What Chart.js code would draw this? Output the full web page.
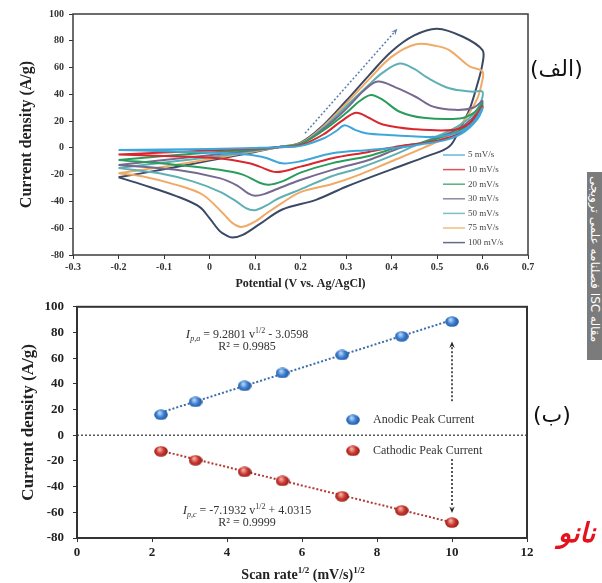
<!DOCTYPE html>
<html>
<head>
<meta charset="utf-8">
<script src="https://cdn.jsdelivr.net/npm/chart.js@4.4.0/dist/chart.umd.min.js"></script>
<style>
    html, body { margin: 0; padding: 0; background: #fff; overflow: hidden; }
    #wrap { position: relative; width: 602px; height: 583px; overflow: hidden; }
    #cvChart { position: absolute; left: 0; top: 0; }
    #peakChart { position: absolute; left: 0; top: 290px; }
    .tag { position: absolute; font-family: 'DejaVu Sans', sans-serif; font-size: 22px; color: #111; white-space: nowrap; }
    #stamp { position: absolute; left: 587px; top: 172px; width: 15px; height: 188px; background: #7b7b7b; overflow: hidden; }
    #stamp span { position: absolute; left: 0; top: 4px; writing-mode: vertical-rl; color: #fff; font-family: 'DejaVu Sans', sans-serif; font-size: 12px; line-height: 15px; white-space: nowrap; }
    #brand { position: absolute; left: 558px; top: 517px; width: 300px; direction: rtl; text-align: left; color: #e3121c; font-family: 'DejaVu Sans', sans-serif; font-size: 27px; font-style: italic; font-weight: bold; white-space: nowrap; }
</style>
</head>
<body>
<div id="wrap">
    <canvas id="cvChart" width="602" height="292"></canvas>
    <canvas id="peakChart" width="602" height="293"></canvas>
    <div class="tag" style="left:530px; top:56px;">(الف)</div>
    <div class="tag" style="left:533px; top:402px;">(ب)</div>
    <div id="stamp"><span>فصلنامه علمی ترویجی ISC مقاله</span></div>
    <div id="brand">فناوری نانو</div>
</div>
<script>
// ======================== CV curves: forward sweep then reverse ========================
const cvLabels = ['5 mV/s', '10 mV/s', '20 mV/s', '30 mV/s', '50 mV/s', '75 mV/s', '100 mV/s'];
const cvColors = ['#3ea7d8', '#d7282f', '#2a9d5c', '#76698f', '#5fb0b4', '#f0aa66', '#3b4965'];

const cv5E = [-0.2, -0.1, 0, 0.1, 0.15, 0.2, 0.25, 0.28, 0.297, 0.32, 0.344, 0.4, 0.454, 0.505, 0.55, 0.58, 0.6,
              0.59, 0.56, 0.52, 0.47, 0.42, 0.35, 0.27, 0.2, 0.16, 0.125, 0.088, 0, -0.1, -0.2];
const cv5J = [-1.5, -1.2, -0.8, 0, 0.5, 1.5, 7, 13, 17, 13.5, 11, 9.5, 8.5, 8.5, 12, 19, 30,
              22, 12, 6, 3, 0.5, -1.5, -4, -10, -11.5, -7.6, -5.2, -3.5, -2.5, -1.5];

const cv10E = [-0.2, -0.1, 0, 0.1, 0.15, 0.2, 0.25, 0.29, 0.322, 0.35, 0.381, 0.45, 0.535, 0.57, 0.6,
               0.59, 0.56, 0.52, 0.47, 0.42, 0.35, 0.27, 0.2, 0.147, 0.11, 0.088, 0.02, -0.1, -0.2];
const cv10J = [-5, -3.5, -2, -0.5, 0.5, 2, 10, 20, 26.3, 22.5, 17.5, 14, 13.4, 18, 31,
               23, 13, 7, 3.5, 1.5, -3, -7.7, -14, -18, -14, -11.4, -7.7, -6, -5];

const cv20E = [-0.2, -0.1, 0, 0.1, 0.15, 0.2, 0.25, 0.3, 0.33, 0.355, 0.38, 0.418, 0.47, 0.55, 0.58, 0.6,
               0.59, 0.56, 0.52, 0.47, 0.42, 0.35, 0.27, 0.2, 0.16, 0.13, 0.11, 0.073, 0.022, -0.073, -0.2];
const cv20J = [-9, -6, -3.5, -1, 0.5, 3, 13, 26, 35, 39.5, 36, 27, 22.5, 22, 26, 33,
               25, 15, 9, 4, 1, -6, -11.4, -18.5, -25, -27.5, -26, -20, -16.4, -12.7, -9];

const cv30E = [-0.2, -0.1, 0, 0.1, 0.15, 0.2, 0.25, 0.3, 0.34, 0.37, 0.41, 0.454, 0.49, 0.54, 0.58, 0.6,
               0.59, 0.56, 0.52, 0.47, 0.42, 0.35, 0.27, 0.2, 0.15, 0.12, 0.1, 0.085, 0.06, 0.022, -0.073, -0.2];
const cv30J = [-12.7, -9, -5.5, -1.5, 0.5, 3, 14, 29, 43, 49.5, 45, 38, 31, 28.4, 30, 35,
               27, 17, 10, 4, 0, -9, -16.4, -24, -30.5, -34.5, -35.8, -34, -28, -22.6, -16.4, -12.7];

const cv50E = [-0.2, -0.1, 0, 0.1, 0.15, 0.2, 0.25, 0.3, 0.35, 0.38, 0.418, 0.45, 0.476, 0.527, 0.579, 0.6,
               0.595, 0.58, 0.55, 0.51, 0.46, 0.4, 0.33, 0.27, 0.2, 0.15, 0.125, 0.1, 0.08, 0.059, 0.022, -0.037, -0.11, -0.2];
const cv50J = [-15, -11, -7, -2, 0.5, 3, 15, 31, 47, 56, 63, 59, 53, 44.5, 42, 42,
               33, 25, 17, 10, 3, -6, -15, -21, -31, -38, -43, -46.5, -45, -40, -32.6, -25, -19, -15];

const cv75E = [-0.2, -0.1, 0, 0.1, 0.15, 0.2, 0.25, 0.3, 0.35, 0.4, 0.454, 0.5, 0.527, 0.571, 0.6,
               0.598, 0.59, 0.571, 0.549, 0.52, 0.47, 0.4, 0.33, 0.27, 0.2, 0.16, 0.125, 0.1, 0.07, 0.05, 0.03, -0.015, -0.073, -0.146, -0.2];
const cv75J = [-19, -14, -8.5, -2.5, 0.5, 3.5, 16, 33, 51, 68, 77.4, 76, 73, 61, 57,
               48, 38, 26, 16, 8, 0, -10, -20, -27, -33, -41, -49, -55, -59, -56, -49, -35, -27.6, -21.4, -19];

const cv100E = [-0.2, -0.1, 0, 0.1, 0.15, 0.2, 0.25, 0.3, 0.35, 0.4, 0.45, 0.5, 0.557, 0.6,
                0.6, 0.587, 0.571, 0.549, 0.527, 0.48, 0.4, 0.3, 0.234, 0.16, 0.11, 0.073, 0.05, 0.035, 0.022, 0, -0.022, -0.073, -0.146, -0.2];
const cv100J = [-22, -16, -9.5, -3, 0.5, 4, 17, 35, 54, 72, 84, 89, 83, 73,
                63, 45.5, 28.4, 13.4, 1, -6, -16, -29, -38.8, -46, -57, -65, -67, -65, -62, -52.5, -44, -36, -27.6, -22];

const cvPotential = [cv5E, cv10E, cv20E, cv30E, cv50E, cv75E, cv100E];
const cvCurrent = [cv5J, cv10J, cv20J, cv30J, cv50J, cv75J, cv100J];

// sweep direction arrow (V, A/g)
const sweepArrowFrom = [0.21, 11];
const sweepArrowTo = [0.413, 89];

// ======================== peak current vs. sqrt(scan rate) ========================
const scanRateRoot = [2.24, 3.16, 4.47, 5.48, 7.07, 8.66, 10];
const anodicPeak = [16, 26, 38.5, 48.5, 62.5, 77, 88.5];
const cathodicPeak = [-12.5, -19.5, -28.5, -35.5, -47.5, -58.5, -68];
const anodicFit = [9.2801, -3.0598];
const cathodicFit = [-7.1932, 4.0315];
const anodicR2 = '0.9985';
const cathodicR2 = '0.9999';

const SERIF = "'Liberation Serif', 'Times New Roman', serif";

// shaded sphere used as point marker
function makeBall(light, mid, dark) {
    const c = document.createElement('canvas');
    c.width = 14; c.height = 11;
    const g = c.getContext('2d');
    const grad = g.createRadialGradient(5.5, 3.5, 0.5, 7, 5.5, 8);
    grad.addColorStop(0, light);
    grad.addColorStop(0.45, mid);
    grad.addColorStop(1, dark);
    g.fillStyle = grad;
    g.beginPath();
    g.ellipse(7, 5.5, 6.8, 5.2, 0, 0, Math.PI * 2);
    g.fill();
    return c;
}
const blueBall = makeBall('#b9d8f7', '#3a7ccf', '#1a4888');
const redBall = makeBall('#f5b3aa', '#c9372e', '#7a1512');

function drawArrow(ctx, x0, y0, x1, y1, color) {
    const ang = Math.atan2(y1 - y0, x1 - x0);
    const head = 7;
    ctx.save();
    ctx.strokeStyle = color;
    ctx.fillStyle = color;
    ctx.lineWidth = 1.5;
    ctx.setLineDash([2, 2]);
    ctx.beginPath();
    ctx.moveTo(x0, y0);
    ctx.lineTo(x1 - Math.cos(ang) * head * 0.8, y1 - Math.sin(ang) * head * 0.8);
    ctx.stroke();
    ctx.setLineDash([]);
    ctx.beginPath();
    ctx.moveTo(x1, y1);
    ctx.lineTo(x1 - head * Math.cos(ang - 0.4), y1 - head * Math.sin(ang - 0.4));
    ctx.lineTo(x1 - head * 0.6 * Math.cos(ang), y1 - head * 0.6 * Math.sin(ang));
    ctx.lineTo(x1 - head * Math.cos(ang + 0.4), y1 - head * Math.sin(ang + 0.4));
    ctx.closePath();
    ctx.fill();
    ctx.restore();
}

// text with sub/superscript runs: [text, font, dy]
function drawRuns(ctx, runs, cx, y, color) {
    let w = 0;
    runs.forEach(r => { ctx.font = r[1]; w += ctx.measureText(r[0]).width; });
    let x = cx - w / 2;
    ctx.fillStyle = color;
    ctx.textAlign = 'left';
    ctx.textBaseline = 'alphabetic';
    runs.forEach(r => {
        ctx.font = r[1];
        ctx.fillText(r[0], x, y + (r[2] || 0));
        x += ctx.measureText(r[0]).width;
    });
}

function fmtSigned(v) {
    return (v < 0 ? ' - ' : ' + ') + Math.abs(v).toFixed(4);
}

// ======================== top chart ========================
const cvDecor = {
    id: 'cvDecor',
    afterDatasetsDraw(chart) {
        const { ctx, chartArea: a, scales: { x, y } } = chart;
        ctx.save();
        ctx.strokeStyle = '#3c3c3c';
        ctx.lineWidth = 1.5;
        ctx.strokeRect(a.left, a.top, a.right - a.left, a.bottom - a.top);

        drawArrow(ctx,
            x.getPixelForValue(sweepArrowFrom[0]), y.getPixelForValue(sweepArrowFrom[1]),
            x.getPixelForValue(sweepArrowTo[0]), y.getPixelForValue(sweepArrowTo[1]), '#5a7db0');

        // legend
        ctx.font = '9px ' + SERIF;
        ctx.textBaseline = 'middle';
        ctx.textAlign = 'left';
        cvLabels.forEach((lab, i) => {
            const yy = a.top + 141 + i * 14.6;
            ctx.strokeStyle = cvColors[i];
            ctx.globalAlpha = 0.8;
            ctx.lineWidth = 1.5;
            ctx.beginPath();
            ctx.moveTo(a.left + 370, yy);
            ctx.lineTo(a.left + 392, yy);
            ctx.stroke();
            ctx.globalAlpha = 1;
            ctx.fillStyle = '#444';
            ctx.fillText(lab, a.left + 395, yy);
        });
        ctx.restore();
    }
};

new Chart(document.getElementById('cvChart'), {
    type: 'scatter',
    data: {
        datasets: cvLabels.map((lab, i) => ({
            label: lab,
            data: cvPotential[i].map((e, k) => ({ x: e, y: cvCurrent[i][k] })),
            showLine: true,
            borderColor: cvColors[i],
            borderWidth: 2,
            pointRadius: 0,
            tension: 0.35,
            fill: false
        }))
    },
    options: {
        responsive: false,
        animation: false,
        layout: { padding: { top: 14, right: 74, left: 0, bottom: 0 } },
        plugins: { legend: { display: false }, tooltip: { enabled: false } },
        scales: {
            x: {
                type: 'linear', min: -0.3, max: 0.7,
                afterFit: s => { s.height = 37; },
                grid: { drawOnChartArea: false, drawTicks: true, tickLength: 4, color: '#333' },
                border: { display: false },
                ticks: {
                    stepSize: 0.1, padding: 2, color: '#333',
                    font: { family: SERIF, size: 10, weight: 'bold' },
                    callback: v => { const r = Math.round(v * 10) / 10; return r === 0 ? '0' : r.toFixed(1); }
                },
                title: {
                    display: true, text: 'Potential (V vs. Ag/AgCl)', color: '#222',
                    font: { family: SERIF, size: 12, weight: 'bold' }, padding: { top: 0, bottom: 1 }
                }
            },
            y: {
                min: -80, max: 100,
                afterFit: s => { s.width = 73; },
                grid: { drawOnChartArea: false, drawTicks: true, tickLength: 4, color: '#333' },
                border: { display: false },
                ticks: { stepSize: 20, padding: 5, color: '#333', font: { family: SERIF, size: 10, weight: 'bold' } },
                title: {
                    display: true, text: 'Current density (A/g)', color: '#222',
                    font: { family: SERIF, size: 16, weight: 'bold' }, padding: { top: 17, bottom: 0 }
                }
            }
        }
    },
    plugins: [cvDecor]
});

// ======================== bottom chart ========================
const peakDecor = {
    id: 'peakDecor',
    afterDatasetsDraw(chart) {
        const { ctx, chartArea: a, scales: { x, y } } = chart;
        ctx.save();
        ctx.strokeStyle = '#333';
        ctx.lineWidth = 2;
        ctx.strokeRect(a.left, a.top, a.right - a.left, a.bottom - a.top);

        // direction arrows at the last scan rate
        const xa = x.getPixelForValue(scanRateRoot[scanRateRoot.length - 1]);
        drawArrow(ctx, xa, y.getPixelForValue(26.5), xa, y.getPixelForValue(73), '#222');
        drawArrow(ctx, xa, y.getPixelForValue(-18.5), xa, y.getPixelForValue(-60.5), '#222');

        // regression equations
        const cx = a.left + 170;
        const reg = '12px ' + SERIF, sub = 'italic 8px ' + SERIF, sup = '8px ' + SERIF, it = 'italic 13px ' + SERIF;
        drawRuns(ctx, [['I', it, 0], ['p,a', sub, 3], [' = ' + anodicFit[0].toFixed(4) + ' v', reg, 0], ['1/2', sup, -5], [fmtSigned(anodicFit[1]), reg, 0]], cx, a.top + 31, '#333');
        drawRuns(ctx, [['R² = ' + anodicR2, reg, 0]], cx, a.top + 43, '#333');
        drawRuns(ctx, [['I', it, 0], ['p,c', sub, 3], [' = ' + cathodicFit[0].toFixed(4) + ' v', reg, 0], ['1/2', sup, -5], [fmtSigned(cathodicFit[1]), reg, 0]], cx, a.top + 207, '#333');
        drawRuns(ctx, [['R² = ' + cathodicR2, reg, 0]], cx, a.top + 219, '#333');

        // legend
        ctx.drawImage(blueBall, a.left + 276 - 7, a.top + 113 - 5.5);
        ctx.drawImage(redBall, a.left + 276 - 7, a.top + 144 - 5.5);
        ctx.font = '12px ' + SERIF;
        ctx.fillStyle = '#333';
        ctx.textAlign = 'left';
        ctx.textBaseline = 'middle';
        ctx.fillText('Anodic Peak Current', a.left + 296, a.top + 113);
        ctx.fillText('Cathodic Peak Current', a.left + 296, a.top + 144);

        // x axis title with superscripts
        const tb = 'bold 14px ' + SERIF, ts = 'bold 9px ' + SERIF;
        drawRuns(ctx, [['Scan rate', tb, 0], ['1/2', ts, -6], [' (mV/s)', tb, 0], ['1/2', ts, -6]], (a.left + a.right) / 2 + 1, 289, '#222');
        ctx.restore();
    }
};

const fitLine = (fit) => [scanRateRoot[0], scanRateRoot[scanRateRoot.length - 1]].map(v => ({ x: v, y: fit[0] * v + fit[1] }));

new Chart(document.getElementById('peakChart'), {
    type: 'scatter',
    data: {
        datasets: [
            { label: 'zero', data: [{ x: 0, y: 0 }, { x: 12, y: 0 }], showLine: true, borderColor: '#555', borderWidth: 1.5, borderDash: [2, 2], pointRadius: 0, order: 3 },
            { label: 'anodic fit', data: fitLine(anodicFit), showLine: true, borderColor: '#3a6cae', borderWidth: 2, borderDash: [2, 2], pointRadius: 0, order: 2 },
            { label: 'cathodic fit', data: fitLine(cathodicFit), showLine: true, borderColor: '#b23a34', borderWidth: 2, borderDash: [2, 2], pointRadius: 0, order: 2 },
            { label: 'Anodic Peak Current', data: scanRateRoot.map((v, i) => ({ x: v, y: anodicPeak[i] })), pointStyle: blueBall, order: 0 },
            { label: 'Cathodic Peak Current', data: scanRateRoot.map((v, i) => ({ x: v, y: cathodicPeak[i] })), pointStyle: redBall, order: 0 }
        ]
    },
    options: {
        responsive: false,
        animation: false,
        layout: { padding: { top: 15, right: 75, left: 0, bottom: 0 } },
        plugins: { legend: { display: false }, tooltip: { enabled: false } },
        scales: {
            x: {
                type: 'linear', min: 0, max: 12,
                afterFit: s => { s.height = 45; },
                grid: { drawOnChartArea: false, drawTicks: true, tickLength: 4, color: '#333' },
                border: { display: false },
                ticks: { stepSize: 2, padding: 3, color: '#222', font: { family: SERIF, size: 13, weight: 'bold' } },
                title: { display: false }
            },
            y: {
                min: -80, max: 100,
                afterFit: s => { s.width = 77; },
                grid: { drawOnChartArea: false, drawTicks: true, tickLength: 4, color: '#333' },
                border: { display: false },
                ticks: { stepSize: 20, padding: 9, color: '#222', font: { family: SERIF, size: 13, weight: 'bold' } },
                title: {
                    display: true, text: 'Current density (A/g)', color: '#222',
                    font: { family: SERIF, size: 17, weight: 'bold' }, padding: { top: 18, bottom: 0 }
                }
            }
        }
    },
    plugins: [peakDecor]
});
</script>
</body>
</html>
